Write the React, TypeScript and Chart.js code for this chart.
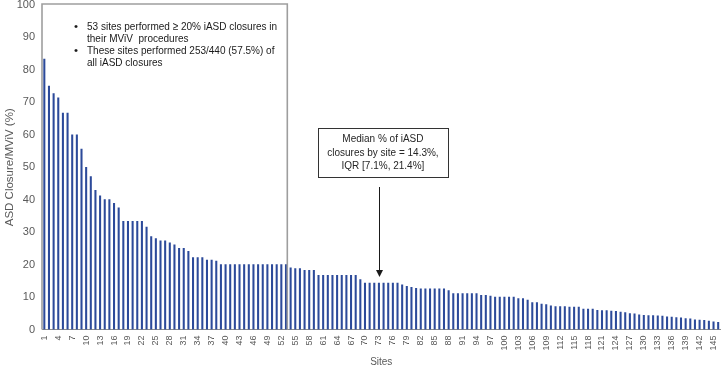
import { useEffect, useRef } from "react";
import { Chart, registerables } from "chart.js";

Chart.register(...registerables);

// Site rank labels 1..146
const sites: string[] = Array.from({ length: 146 }, (_, i) => String(i + 1));

// Share of MViV procedures with iASD closure, per site (%), sorted descending
const closureRates: number[] = [
  83.3, 75.0, 72.7, 71.4, 66.7, 66.7, 60.0, 60.0, 55.6, 50.0,
  47.1, 42.9, 41.2, 40.0, 40.0, 38.9, 37.5, 33.3, 33.3, 33.3,
  33.3, 33.3, 31.6, 28.6, 28.0, 27.3, 27.3, 26.7, 26.1, 25.0,
  25.0, 24.1, 22.2, 22.2, 22.2, 21.4, 21.4, 21.1, 20.0, 20.0,
  20.0, 20.0, 20.0, 20.0, 20.0, 20.0, 20.0, 20.0, 20.0, 20.0,
  20.0, 20.0, 20.0, 19.0, 18.8, 18.8, 18.2, 18.2, 18.2, 16.7,
  16.7, 16.7, 16.7, 16.7, 16.7, 16.7, 16.7, 16.7, 15.4, 14.3,
  14.3, 14.3, 14.3, 14.3, 14.3, 14.3, 14.3, 13.8, 13.3, 13.0,
  12.7, 12.5, 12.5, 12.5, 12.5, 12.5, 12.5, 12.0, 11.1, 11.1,
  11.1, 11.1, 11.1, 11.1, 10.5, 10.5, 10.3, 10.0, 10.0, 10.0,
  10.0, 10.0, 9.5, 9.5, 9.1, 8.3, 8.3, 7.8, 7.7, 7.3,
  7.1, 7.1, 7.1, 6.9, 6.9, 6.9, 6.3, 6.3, 6.3, 5.9,
  5.8, 5.8, 5.7, 5.6, 5.4, 5.2, 4.9, 4.8, 4.5, 4.4,
  4.3, 4.3, 4.2, 4.1, 3.9, 3.8, 3.7, 3.6, 3.4, 3.3,
  3.0, 2.9, 2.8, 2.6, 2.4, 2.2,
];

// Number of sites at or above the 20% threshold
const HIGH_SITES = 53;
// Site sitting at the median of the distribution
const MEDIAN_SITE = "73";
const MEDIAN_RATE = 14.3;

const highSiteNotes: string[][] = [
  ["53 sites performed \u2265 20% iASD closures in", "their MViV  procedures"],
  ["These sites performed 253/440 (57.5%) of", "all iASD closures"],
];

const medianNote: string[] = [
  "Median % of iASD",
  "closures by site = 14.3%,",
  "IQR [7.1%, 21.4%]",
];

const FONT = "'Liberation Sans', Arial, sans-serif";
const AXIS_GREY = "#595959";

const calloutPlugin = {
  id: "callouts",
  afterDraw(chart: any) {
    const { ctx, chartArea } = chart;
    const x = chart.scales.x;
    const y = chart.scales.y;
    ctx.save();

    // Frame around the high-share sites
    const boxLeft = chartArea.left;
    const boxRight =
      (x.getPixelForValue(HIGH_SITES - 1) + x.getPixelForValue(HIGH_SITES)) / 2 - 1;
    const boxTop = y.getPixelForValue(100) - 1;
    const boxBottom = chartArea.bottom;
    ctx.strokeStyle = "#9E9E9E";
    ctx.lineWidth = 1.6;
    ctx.beginPath();
    ctx.moveTo(boxLeft, boxBottom);
    ctx.lineTo(boxLeft, boxTop);
    ctx.lineTo(boxRight, boxTop);
    ctx.lineTo(boxRight, boxBottom);
    ctx.stroke();

    // Bullet notes inside the frame
    ctx.fillStyle = "#1A1A1A";
    ctx.textBaseline = "middle";
    ctx.textAlign = "left";
    ctx.font = `11.5px ${FONT}`;
    let lineY = 27;
    for (const note of highSiteNotes) {
      ctx.fillText("\u2022", 74, lineY);
      note.forEach((line, i) => {
        ctx.save();
        ctx.translate(87, lineY + i * 12);
        ctx.scale(0.87, 1);
        ctx.fillText(line, 0, 0);
        ctx.restore();
      });
      lineY += 24;
    }

    // Median callout box
    const mx = x.getPixelForValue(sites.indexOf(MEDIAN_SITE));
    const bw = 130;
    const bx = mx - bw / 2 + 4;
    const by = 128;
    const bh = 49;
    ctx.strokeStyle = "#333333";
    ctx.lineWidth = 1;
    ctx.strokeRect(Math.round(bx) + 0.5, by + 0.5, bw, bh);
    ctx.fillStyle = "#262626";
    ctx.textAlign = "center";
    ctx.font = `10px ${FONT}`;
    medianNote.forEach((line, i) => {
      ctx.fillText(line, bx + bw / 2, 139.5 + i * 13.5);
    });

    // Arrow pointing down to the median site
    const ax = Math.round(mx) + 0.5;
    const tipY = y.getPixelForValue(MEDIAN_RATE) - 6;
    ctx.strokeStyle = "#1A1A1A";
    ctx.fillStyle = "#1A1A1A";
    ctx.lineWidth = 1;
    ctx.beginPath();
    ctx.moveTo(ax, 187);
    ctx.lineTo(ax, tipY - 6);
    ctx.stroke();
    ctx.beginPath();
    ctx.moveTo(ax - 3.5, tipY - 7);
    ctx.lineTo(ax + 3.5, tipY - 7);
    ctx.lineTo(ax, tipY);
    ctx.closePath();
    ctx.fill();

    ctx.restore();
  },
};

export default function App() {
  const canvasRef = useRef<HTMLCanvasElement | null>(null);

  useEffect(() => {
    if (!canvasRef.current) return;
    const chart = new Chart(canvasRef.current, {
      type: "bar",
      data: {
        labels: sites,
        datasets: [
          {
            data: closureRates,
            backgroundColor: "#2C4A9A",
            barThickness: 1.4,
            borderWidth: 0,
          },
        ],
      },
      options: {
        responsive: false,
        animation: false,
        devicePixelRatio: 1,
        layout: { padding: { left: 0, right: 6.5, top: 5, bottom: 0 } },
        plugins: {
          legend: { display: false },
          tooltip: { enabled: false },
        },
        scales: {
          x: {
            grid: { display: false, drawTicks: false },
            border: { display: true, color: "#8C8C8C", width: 1 },
            ticks: {
              autoSkip: false,
              minRotation: 90,
              maxRotation: 90,
              padding: 6,
              color: AXIS_GREY,
              font: { family: FONT, size: 9 },
              callback: (_v: any, i: number) => (i % 3 === 0 ? sites[i] : ""),
            },
            title: {
              display: true,
              text: "Sites",
              color: AXIS_GREY,
              font: { family: FONT, size: 10 },
              padding: { top: 0, bottom: 2 },
            },
            afterFit: (s: any) => {
              s.height = 40.5;
              s.paddingLeft = 0;
              s.paddingRight = 0;
            },
          },
          y: {
            min: 0,
            max: 100,
            grid: { display: false, drawTicks: false },
            border: { display: false },
            ticks: {
              stepSize: 10,
              padding: 7,
              color: AXIS_GREY,
              font: { family: FONT, size: 11 },
            },
            title: {
              display: true,
              text: "ASD Closure/MViV (%)",
              color: AXIS_GREY,
              font: { family: FONT, size: 11.5 },
              padding: { top: 3, bottom: 0 },
            },
            afterFit: (s: any) => {
              s.width = 42;
              s.paddingTop = 0;
              s.paddingBottom = 0;
            },
          },
        },
      },
      plugins: [calloutPlugin],
    });
    return () => chart.destroy();
  }, []);

  return (
    <div style={{ position: "fixed", left: 0, top: 0, width: 727, height: 370, background: "#fff" }}>
      <canvas ref={canvasRef} width={727} height={370} />
    </div>
  );
}
